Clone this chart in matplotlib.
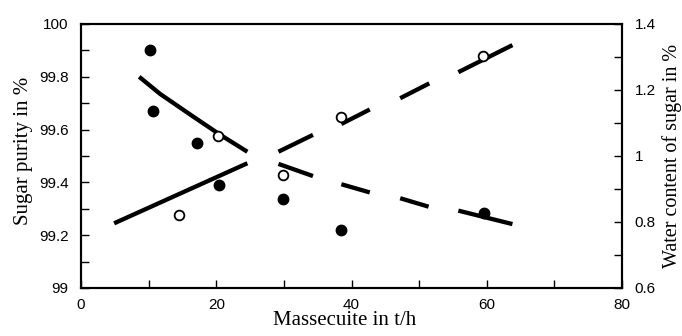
import matplotlib
matplotlib.use("Agg")
import matplotlib.pyplot as plt
from matplotlib.ticker import MultipleLocator, FuncFormatter

purity_x = [10.2, 10.7, 17.2, 20.4, 29.9, 38.4, 59.6]
purity_y = [99.90, 99.67, 99.55, 99.39, 99.337, 99.22, 99.285]

water_x = [14.5, 20.3, 29.9, 38.45, 59.5]
water_y = [0.821, 1.062, 0.942, 1.119, 1.303]

# Ausgleichskurve Reinheit (linke Achse): durchgezogen + Strichstuecke (Anfang/Ende)
pur_fit_solid_x = [8.6, 11.7, 16.6, 20.6, 24.6]
pur_fit_solid_y = [99.80, 99.735, 99.649, 99.58, 99.516]
pur_fit_dash_x = [29.2, 34.3, 38.5, 42.7, 47.2, 51.4, 55.8, 63.8]
pur_fit_dash_y = [99.470, 99.424, 99.393, 99.362, 99.340, 99.308, 99.293, 99.242]

# Ausgleichsgerade Wassergehalt (rechte Achse)
wat_fit_solid_x = [4.9, 24.6]
wat_fit_solid_y = [0.796, 0.978]
wat_fit_dash_x = [29.2, 34.3, 38.5, 42.7, 47.2, 51.5, 55.8, 63.8]
wat_fit_dash_y = [1.013, 1.064, 1.097, 1.141, 1.175, 1.220, 1.254, 1.336]

fig = plt.figure(figsize=(6.82, 3.36), dpi=100)
ax = fig.add_axes([0.1188, 0.1429, 0.7932, 0.7857])
ax2 = ax.twinx()

lw = 3.1

ax.plot(pur_fit_solid_x, pur_fit_solid_y, color="k", lw=lw, solid_capstyle="butt")
for i in range(0, len(pur_fit_dash_x), 2):
    ax.plot(pur_fit_dash_x[i:i + 2], pur_fit_dash_y[i:i + 2], color="k", lw=lw,
            solid_capstyle="butt")
ax.plot(purity_x, purity_y, "o", color="k", markersize=7.5, zorder=5)

ax2.plot(wat_fit_solid_x, wat_fit_solid_y, color="k", lw=lw, solid_capstyle="butt")
for i in range(0, len(wat_fit_dash_x), 2):
    ax2.plot(wat_fit_dash_x[i:i + 2], wat_fit_dash_y[i:i + 2], color="k", lw=lw,
             solid_capstyle="butt")
ax2.plot(water_x, water_y, "o", markerfacecolor="white", markeredgecolor="k",
         markeredgewidth=1.3, markersize=7, zorder=4)

ax.set_xlim(0, 80)
ax.set_ylim(99, 100)
ax2.set_ylim(0.6, 1.4)

ax.xaxis.set_major_locator(MultipleLocator(20))
ax.xaxis.set_minor_locator(MultipleLocator(10))
ax.yaxis.set_major_locator(MultipleLocator(0.2))
ax.yaxis.set_minor_locator(MultipleLocator(0.1))
ax2.yaxis.set_major_locator(MultipleLocator(0.2))
ax2.yaxis.set_minor_locator(MultipleLocator(0.1))
ax.yaxis.set_major_formatter(FuncFormatter(lambda v, p: "%g" % round(v, 2)))
ax2.yaxis.set_major_formatter(FuncFormatter(lambda v, p: "%g" % round(v, 2)))

for a in (ax, ax2):
    a.tick_params(which="both", direction="in", length=5.5, width=1, pad=9)
    a.tick_params(axis="x", pad=7)
    for lab in a.get_xticklabels() + a.get_yticklabels():
        lab.set_fontfamily("Liberation Sans")
        lab.set_fontsize(11)
    for s in a.spines.values():
        s.set_linewidth(1.5)
ax.tick_params(axis="x", which="both", top=False)

ax.set_xlabel("Massecuite in t/h", family="Liberation Serif", size=15)
ax.set_ylabel("Sugar purity in %", family="Liberation Serif", size=15)
ax2.set_ylabel("Water content of sugar in %", family="Liberation Serif", size=14.5)
ax.xaxis.set_label_coords(0.487, -0.088)
ax.yaxis.set_label_coords(-0.089, 0.52)
ax2.yaxis.set_label_coords(1.075, 0.5)

plt.savefig("out.png", dpi=100)
